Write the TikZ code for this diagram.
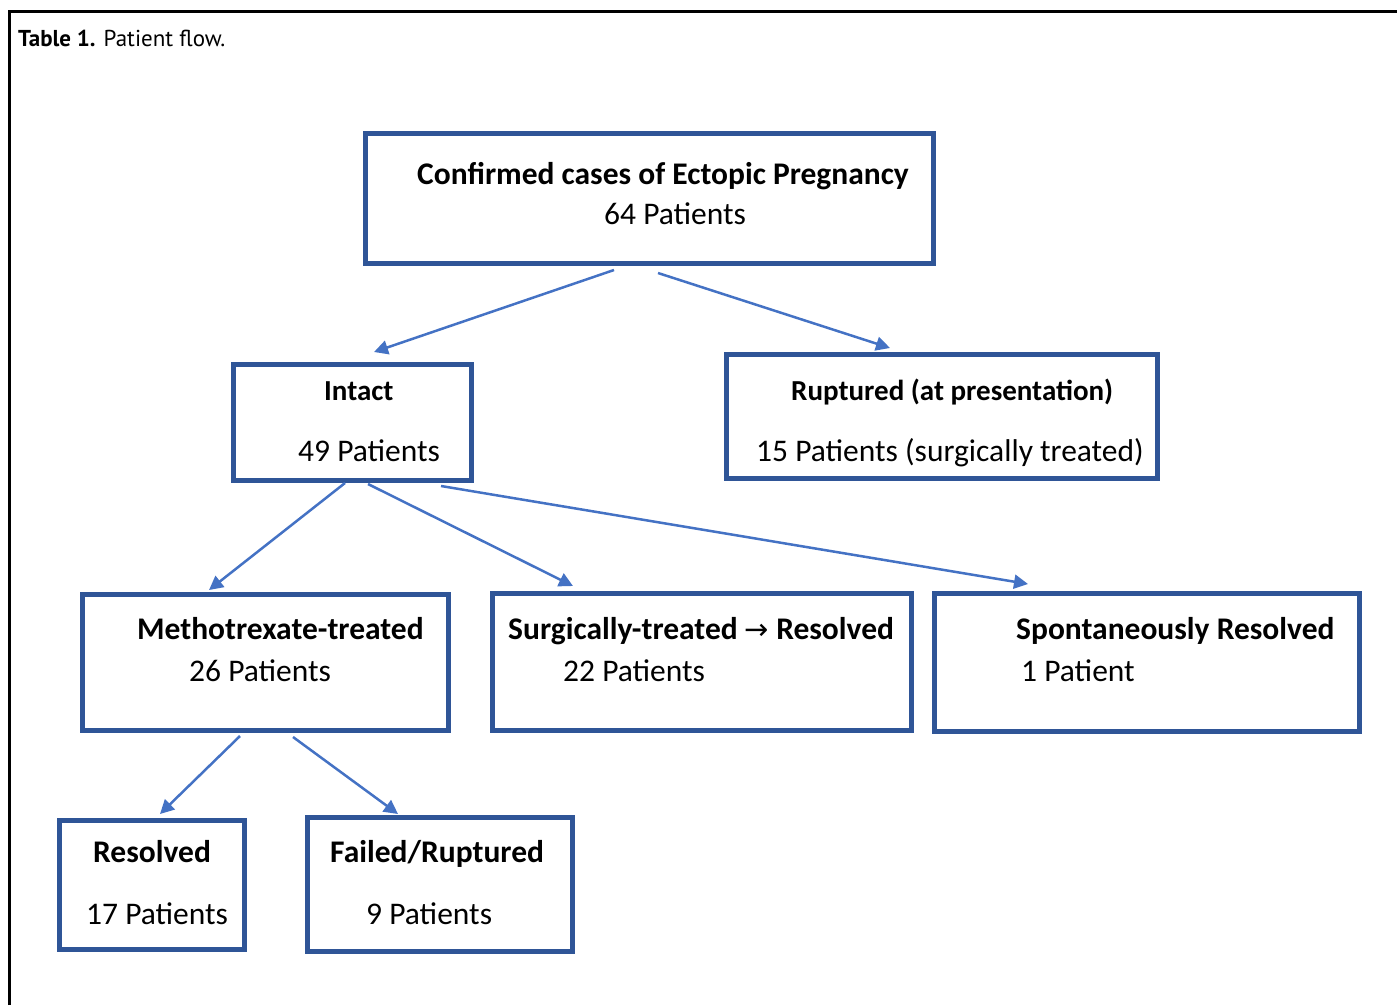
\documentclass[tikz,border=0pt]{standalone}
\usepackage{fontspec}
\setmainfont{Carlito}
\newfontfamily\titlefont{PT Sans}
\newfontfamily\symfont{DejaVu Sans}
\usetikzlibrary{arrows.meta, calc}
\definecolor{BoxBlue}{HTML}{2F5597}
\definecolor{ArrowBlue}{HTML}{4472C4}

\begin{document}
\begin{tikzpicture}[
            x=1pt, y=-1pt,
            box/.style = {rectangle, draw=BoxBlue, line width=5pt, inner sep=0pt, outer sep=0pt},
            head/.style = {anchor=base west, inner sep=0pt, font=\fontsize{31.5}{37}\selectfont\bfseries},
            smallhead/.style = {head, font=\fontsize{29}{34}\selectfont\bfseries},
            count/.style = {anchor=base west, inner sep=0pt, font=\fontsize{31.5}{37}\selectfont},
            arrow/.style = {draw=ArrowBlue, line width=2.5pt, -{Triangle[length=14pt,width=14pt]}}
        ]
            \useasboundingbox (0,0) rectangle (1397,1005);
            % frame and caption
            \draw [line width=3pt] (9,1005) -- (9,11) -- (1397,11);
            \node [anchor=base west, inner sep=0pt, font=\titlefont\fontsize{23}{27}\selectfont] (caption) at (18,46) {\textbf{Table 1.} Patient flow.};

            % boxes
            \node [box, minimum width=568pt, minimum height=130pt] (cases) at (649.5,198.5) {};
            \node [box, minimum width=238pt, minimum height=116pt] (intact) at (352.5,422.5) {};
            \node [box, minimum width=431pt, minimum height=124pt] (ruptured) at (942,416.5) {};
            \node [box, minimum width=366pt, minimum height=136pt] (mtx) at (265.5,662.5) {};
            \node [box, minimum width=419pt, minimum height=137pt] (surgical) at (702,662) {};
            \node [box, minimum width=425pt, minimum height=138pt] (spont) at (1147,662.5) {};
            \node [box, minimum width=185pt, minimum height=129pt] (resolved) at (152,885) {};
            \node [box, minimum width=265pt, minimum height=134pt] (failed) at (440,884.5) {};

            % texts
            \node [head] (casesT) at (417,184) {Confirmed cases of Ectopic Pregnancy};
            \node [count] (casesN) at (604,224) {64 Patients};
            \node [smallhead] (intactT) at (324,400) {Intact};
            \node [count] (intactN) at (298,461) {49 Patients};
            \node [smallhead] (rupturedT) at (791,400) {Ruptured (at presentation)};
            \node [count] (rupturedN) at (756,461) {15 Patients (surgically treated)};
            \node [head] (mtxT) at (137,639) {Methotrexate-treated};
            \node [count] (mtxN) at (189,681) {26 Patients};
            \node [head] (surgicalT) at (508,639) {Surgically-treated {\symfont\mdseries\fontsize{29}{34}\selectfont →} Resolved};
            \node [count] (surgicalN) at (563,681) {22 Patients};
            \node [head] (spontT) at (1016,639) {Spontaneously Resolved};
            \node [count] (spontN) at (1021,681) {1 Patient};
            \node [head] (resolvedT) at (93,862) {Resolved};
            \node [count] (resolvedN) at (86,924) {17 Patients};
            \node [head] (failedT) at (330,862) {Failed/Ruptured};
            \node [count] (failedN) at (366,924) {9 Patients};

            % connectors
            \draw [arrow] ($(cases.south)+(-35.5,6.5)$) -- ($(intact.north)+(21.5,-12.5)$);
            \draw [arrow] ($(cases.south)+(8.5,9.5)$) -- ($(ruptured.north)+(-52,-6.5)$);
            \draw [arrow] ($(intact.south)+(-7.5,2.5)$) -- ($(mtx.north)+(-56.5,-4.5)$);
            \draw [arrow] ($(intact.south)+(15.5,3.5)$) -- ($(surgical.north)+(-129,-7.5)$);
            \draw [arrow] ($(intact.south)+(88.5,5.5)$) -- ($(spont.north)+(-119,-9.5)$);
            \draw [arrow] ($(mtx.south)+(-25.5,5.5)$) -- ($(resolved.north)+(8,-6.5)$);
            \draw [arrow] ($(mtx.south)+(27.5,6.5)$) -- ($(failed.north)+(-42,-3.5)$);
        \end{tikzpicture}
\end{document}
